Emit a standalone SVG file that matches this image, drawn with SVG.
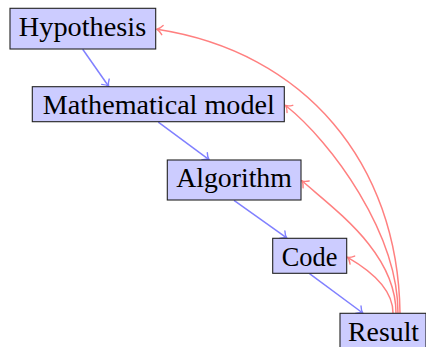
<svg xmlns="http://www.w3.org/2000/svg" width="426" height="347" viewBox="0 0 426 347">
  <style>
    .box { fill: #ccccff; stroke: #222222; stroke-width: 1.1; }
    .lbl { font-size: 26.5px; fill: #000000; text-anchor: middle; }
    .fwd { fill: none; stroke: #8080ff; stroke-width: 1.5; marker-end: url(#tipBlue); }
    .back { fill: none; stroke: #ff8080; stroke-width: 1.5; marker-end: url(#tipRed); }
  </style>
  <defs>
    <marker id="tipBlue" markerUnits="userSpaceOnUse" orient="auto" viewBox="-8 -7 10 14" refX="0" refY="0" markerWidth="10" markerHeight="14" overflow="visible">
      <path d="M-5.5,-4.6 C-3.3,-1.8 -1.1,-0.4 0,0 C-1.1,0.4 -3.3,1.8 -5.5,4.6" fill="none" stroke="#8080ff" stroke-width="1.4" stroke-linecap="round"/>
    </marker>
    <marker id="tipRed" markerUnits="userSpaceOnUse" orient="auto" viewBox="-8 -7 10 14" refX="0" refY="0" markerWidth="10" markerHeight="14" overflow="visible">
      <path d="M-5.5,-4.6 C-3.3,-1.8 -1.1,-0.4 0,0 C-1.1,0.4 -3.3,1.8 -5.5,4.6" fill="none" stroke="#ff8080" stroke-width="1.4" stroke-linecap="round"/>
    </marker>
  </defs>

  <!-- connectors -->
  <g id="connectors">
    <path class="fwd" d="M82.7,49.3 L108.6,86.2"/>
    <path class="fwd" d="M158.3,122.2 L209,159.6"/>
    <path class="fwd" d="M234,200.3 L286.7,237.9"/>
    <path class="fwd" d="M309.5,273.6 L362.7,313"/>

    <path class="back" d="M400,313 C398,163 305,52 157,29.3"/>
    <path class="back" d="M398,313 C398,233 331.8,142.2 285.6,105.5"/>
    <path class="back" d="M396,313 C396,253 335.5,210.4 302,180.8"/>
    <path class="back" d="M393,313 C393,288 368.8,269.5 347.6,257.3"/>
  </g>

  <!-- nodes -->
  <g id="hypothesis">
    <rect class="box" x="10" y="8.3" width="145.7" height="40.7"/>
    <text class="lbl" font-family="Liberation Serif, serif" x="82.5" y="35.7" textLength="127.4" lengthAdjust="spacingAndGlyphs">Hypothesis</text>
  </g>
  <g id="model">
    <rect class="box" x="32.3" y="86.7" width="252" height="35"/>
    <text class="lbl" font-family="Liberation Serif, serif" x="158.8" y="114.1" textLength="232" lengthAdjust="spacingAndGlyphs">Mathematical model</text>
  </g>
  <g id="algorithm">
    <rect class="box" x="167.3" y="160" width="133.7" height="40"/>
    <text class="lbl" font-family="Liberation Serif, serif" x="234" y="187.4" textLength="115.7" lengthAdjust="spacingAndGlyphs">Algorithm</text>
  </g>
  <g id="code">
    <rect class="box" x="272.7" y="238.3" width="74" height="35"/>
    <text class="lbl" font-family="Liberation Serif, serif" x="309.6" y="265.7" textLength="55.6" lengthAdjust="spacingAndGlyphs">Code</text>
  </g>
  <g id="result">
    <rect class="box" x="340" y="313.3" width="86" height="40"/>
    <text class="lbl" font-family="Liberation Serif, serif" x="383.6" y="340.7" textLength="71" lengthAdjust="spacingAndGlyphs">Result</text>
  </g>
</svg>
